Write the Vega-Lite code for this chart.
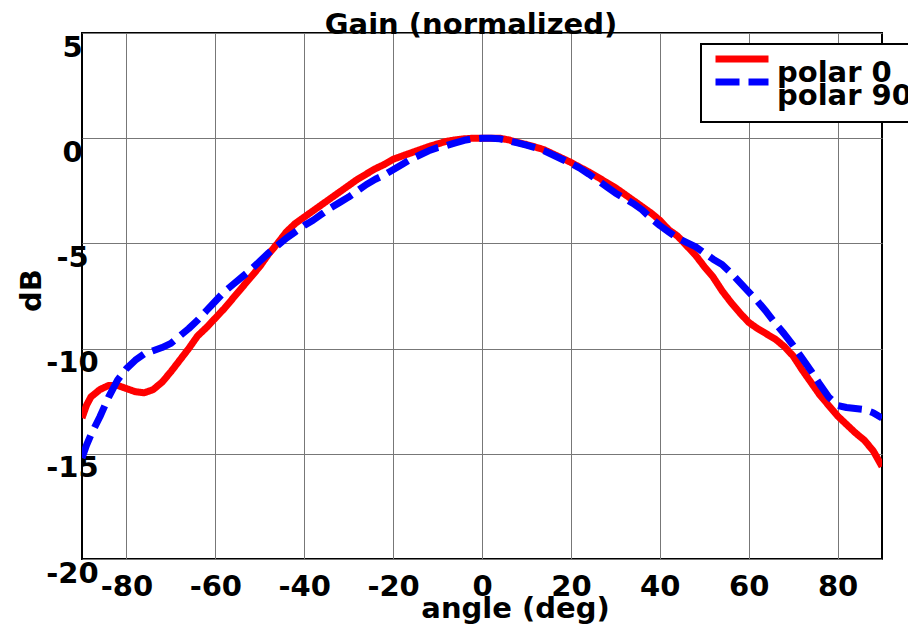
{
  "$schema": "https://vega.github.io/schema/vega-lite/v6.json",
  "autosize": {"type": "none"},
  "width": 800,
  "height": 526,
  "padding": {"left": 82, "top": 33, "right": 26, "bottom": 67},
  "background": "white",
  "title": {
    "text": "Gain (normalized)",
    "font": "DejaVu Sans",
    "fontSize": 29,
    "fontWeight": "bold",
    "color": "black",
    "anchor": "middle",
    "frame": "group",
    "baseline": "alphabetic",
    "offset": 0,
    "dx": -11,
    "dy": 30
  },
  "config": {
    "font": "DejaVu Sans",
    "view": {"stroke": "black", "strokeWidth": 2}
  },
  "data": {
    "values": [
      {"angle": -90, "dB": -13.3, "series": "polar 0"},
      {"angle": -89, "dB": -12.7, "series": "polar 0"},
      {"angle": -88, "dB": -12.3, "series": "polar 0"},
      {"angle": -86, "dB": -11.95, "series": "polar 0"},
      {"angle": -84, "dB": -11.75, "series": "polar 0"},
      {"angle": -82, "dB": -11.75, "series": "polar 0"},
      {"angle": -80, "dB": -11.9, "series": "polar 0"},
      {"angle": -78, "dB": -12.05, "series": "polar 0"},
      {"angle": -76, "dB": -12.1, "series": "polar 0"},
      {"angle": -74, "dB": -11.95, "series": "polar 0"},
      {"angle": -72, "dB": -11.6, "series": "polar 0"},
      {"angle": -70, "dB": -11.1, "series": "polar 0"},
      {"angle": -68, "dB": -10.55, "series": "polar 0"},
      {"angle": -66, "dB": -10.0, "series": "polar 0"},
      {"angle": -64, "dB": -9.4, "series": "polar 0"},
      {"angle": -62, "dB": -9.0, "series": "polar 0"},
      {"angle": -60, "dB": -8.55, "series": "polar 0"},
      {"angle": -58, "dB": -8.1, "series": "polar 0"},
      {"angle": -56, "dB": -7.6, "series": "polar 0"},
      {"angle": -54, "dB": -7.1, "series": "polar 0"},
      {"angle": -52, "dB": -6.6, "series": "polar 0"},
      {"angle": -50, "dB": -6.1, "series": "polar 0"},
      {"angle": -48, "dB": -5.5, "series": "polar 0"},
      {"angle": -46, "dB": -5.0, "series": "polar 0"},
      {"angle": -44, "dB": -4.45, "series": "polar 0"},
      {"angle": -42, "dB": -4.05, "series": "polar 0"},
      {"angle": -40, "dB": -3.75, "series": "polar 0"},
      {"angle": -38, "dB": -3.45, "series": "polar 0"},
      {"angle": -36, "dB": -3.15, "series": "polar 0"},
      {"angle": -34, "dB": -2.85, "series": "polar 0"},
      {"angle": -32, "dB": -2.55, "series": "polar 0"},
      {"angle": -30, "dB": -2.25, "series": "polar 0"},
      {"angle": -28, "dB": -1.95, "series": "polar 0"},
      {"angle": -26, "dB": -1.7, "series": "polar 0"},
      {"angle": -24, "dB": -1.45, "series": "polar 0"},
      {"angle": -22, "dB": -1.25, "series": "polar 0"},
      {"angle": -20, "dB": -1.0, "series": "polar 0"},
      {"angle": -18, "dB": -0.85, "series": "polar 0"},
      {"angle": -16, "dB": -0.7, "series": "polar 0"},
      {"angle": -14, "dB": -0.55, "series": "polar 0"},
      {"angle": -12, "dB": -0.4, "series": "polar 0"},
      {"angle": -10, "dB": -0.27, "series": "polar 0"},
      {"angle": -8, "dB": -0.15, "series": "polar 0"},
      {"angle": -6, "dB": -0.08, "series": "polar 0"},
      {"angle": -4, "dB": -0.03, "series": "polar 0"},
      {"angle": -2, "dB": 0, "series": "polar 0"},
      {"angle": 0, "dB": 0, "series": "polar 0"},
      {"angle": 2, "dB": 0, "series": "polar 0"},
      {"angle": 4, "dB": 0, "series": "polar 0"},
      {"angle": 6, "dB": -0.08, "series": "polar 0"},
      {"angle": 8, "dB": -0.2, "series": "polar 0"},
      {"angle": 10, "dB": -0.3, "series": "polar 0"},
      {"angle": 12, "dB": -0.42, "series": "polar 0"},
      {"angle": 14, "dB": -0.55, "series": "polar 0"},
      {"angle": 16, "dB": -0.75, "series": "polar 0"},
      {"angle": 18, "dB": -0.95, "series": "polar 0"},
      {"angle": 20, "dB": -1.15, "series": "polar 0"},
      {"angle": 22, "dB": -1.38, "series": "polar 0"},
      {"angle": 24, "dB": -1.6, "series": "polar 0"},
      {"angle": 26, "dB": -1.85, "series": "polar 0"},
      {"angle": 28, "dB": -2.1, "series": "polar 0"},
      {"angle": 30, "dB": -2.35, "series": "polar 0"},
      {"angle": 32, "dB": -2.65, "series": "polar 0"},
      {"angle": 34, "dB": -2.95, "series": "polar 0"},
      {"angle": 36, "dB": -3.25, "series": "polar 0"},
      {"angle": 38, "dB": -3.55, "series": "polar 0"},
      {"angle": 40, "dB": -3.9, "series": "polar 0"},
      {"angle": 42, "dB": -4.35, "series": "polar 0"},
      {"angle": 44, "dB": -4.65, "series": "polar 0"},
      {"angle": 46, "dB": -5.1, "series": "polar 0"},
      {"angle": 48, "dB": -5.55, "series": "polar 0"},
      {"angle": 50, "dB": -6.1, "series": "polar 0"},
      {"angle": 52, "dB": -6.6, "series": "polar 0"},
      {"angle": 54, "dB": -7.25, "series": "polar 0"},
      {"angle": 56, "dB": -7.8, "series": "polar 0"},
      {"angle": 58, "dB": -8.3, "series": "polar 0"},
      {"angle": 60, "dB": -8.75, "series": "polar 0"},
      {"angle": 62, "dB": -9.05, "series": "polar 0"},
      {"angle": 64, "dB": -9.3, "series": "polar 0"},
      {"angle": 66, "dB": -9.55, "series": "polar 0"},
      {"angle": 68, "dB": -9.9, "series": "polar 0"},
      {"angle": 70, "dB": -10.35, "series": "polar 0"},
      {"angle": 72, "dB": -11.0, "series": "polar 0"},
      {"angle": 74, "dB": -11.6, "series": "polar 0"},
      {"angle": 76, "dB": -12.2, "series": "polar 0"},
      {"angle": 78, "dB": -12.7, "series": "polar 0"},
      {"angle": 80, "dB": -13.2, "series": "polar 0"},
      {"angle": 82, "dB": -13.6, "series": "polar 0"},
      {"angle": 84, "dB": -14.0, "series": "polar 0"},
      {"angle": 86, "dB": -14.35, "series": "polar 0"},
      {"angle": 88, "dB": -14.85, "series": "polar 0"},
      {"angle": 90, "dB": -15.6, "series": "polar 0"},
      {"angle": -90, "dB": -15.2, "series": "polar 90"},
      {"angle": -89, "dB": -14.6, "series": "polar 90"},
      {"angle": -88, "dB": -14.1, "series": "polar 90"},
      {"angle": -86, "dB": -13.25, "series": "polar 90"},
      {"angle": -84, "dB": -12.3, "series": "polar 90"},
      {"angle": -82, "dB": -11.5, "series": "polar 90"},
      {"angle": -80, "dB": -10.95, "series": "polar 90"},
      {"angle": -78, "dB": -10.55, "series": "polar 90"},
      {"angle": -76, "dB": -10.25, "series": "polar 90"},
      {"angle": -74, "dB": -10.1, "series": "polar 90"},
      {"angle": -72, "dB": -9.95, "series": "polar 90"},
      {"angle": -70, "dB": -9.75, "series": "polar 90"},
      {"angle": -68, "dB": -9.4, "series": "polar 90"},
      {"angle": -66, "dB": -9.05, "series": "polar 90"},
      {"angle": -64, "dB": -8.65, "series": "polar 90"},
      {"angle": -62, "dB": -8.2, "series": "polar 90"},
      {"angle": -60, "dB": -7.75, "series": "polar 90"},
      {"angle": -58, "dB": -7.3, "series": "polar 90"},
      {"angle": -56, "dB": -6.95, "series": "polar 90"},
      {"angle": -54, "dB": -6.6, "series": "polar 90"},
      {"angle": -52, "dB": -6.25, "series": "polar 90"},
      {"angle": -50, "dB": -5.85, "series": "polar 90"},
      {"angle": -48, "dB": -5.45, "series": "polar 90"},
      {"angle": -46, "dB": -5.1, "series": "polar 90"},
      {"angle": -44, "dB": -4.75, "series": "polar 90"},
      {"angle": -42, "dB": -4.45, "series": "polar 90"},
      {"angle": -40, "dB": -4.15, "series": "polar 90"},
      {"angle": -38, "dB": -3.9, "series": "polar 90"},
      {"angle": -36, "dB": -3.6, "series": "polar 90"},
      {"angle": -34, "dB": -3.3, "series": "polar 90"},
      {"angle": -32, "dB": -3.05, "series": "polar 90"},
      {"angle": -30, "dB": -2.8, "series": "polar 90"},
      {"angle": -28, "dB": -2.5, "series": "polar 90"},
      {"angle": -26, "dB": -2.2, "series": "polar 90"},
      {"angle": -24, "dB": -1.95, "series": "polar 90"},
      {"angle": -22, "dB": -1.75, "series": "polar 90"},
      {"angle": -20, "dB": -1.5, "series": "polar 90"},
      {"angle": -18, "dB": -1.25, "series": "polar 90"},
      {"angle": -16, "dB": -1.0, "series": "polar 90"},
      {"angle": -14, "dB": -0.8, "series": "polar 90"},
      {"angle": -12, "dB": -0.6, "series": "polar 90"},
      {"angle": -10, "dB": -0.45, "series": "polar 90"},
      {"angle": -8, "dB": -0.35, "series": "polar 90"},
      {"angle": -6, "dB": -0.22, "series": "polar 90"},
      {"angle": -4, "dB": -0.1, "series": "polar 90"},
      {"angle": -2, "dB": -0.03, "series": "polar 90"},
      {"angle": 0, "dB": 0, "series": "polar 90"},
      {"angle": 2, "dB": 0, "series": "polar 90"},
      {"angle": 4, "dB": -0.03, "series": "polar 90"},
      {"angle": 6, "dB": -0.12, "series": "polar 90"},
      {"angle": 8, "dB": -0.22, "series": "polar 90"},
      {"angle": 10, "dB": -0.33, "series": "polar 90"},
      {"angle": 12, "dB": -0.45, "series": "polar 90"},
      {"angle": 14, "dB": -0.6, "series": "polar 90"},
      {"angle": 16, "dB": -0.8, "series": "polar 90"},
      {"angle": 18, "dB": -1.0, "series": "polar 90"},
      {"angle": 20, "dB": -1.2, "series": "polar 90"},
      {"angle": 22, "dB": -1.42, "series": "polar 90"},
      {"angle": 24, "dB": -1.7, "series": "polar 90"},
      {"angle": 26, "dB": -2.0, "series": "polar 90"},
      {"angle": 28, "dB": -2.3, "series": "polar 90"},
      {"angle": 30, "dB": -2.6, "series": "polar 90"},
      {"angle": 32, "dB": -2.85, "series": "polar 90"},
      {"angle": 34, "dB": -3.1, "series": "polar 90"},
      {"angle": 36, "dB": -3.4, "series": "polar 90"},
      {"angle": 38, "dB": -3.8, "series": "polar 90"},
      {"angle": 40, "dB": -4.15, "series": "polar 90"},
      {"angle": 42, "dB": -4.45, "series": "polar 90"},
      {"angle": 44, "dB": -4.75, "series": "polar 90"},
      {"angle": 46, "dB": -4.95, "series": "polar 90"},
      {"angle": 48, "dB": -5.15, "series": "polar 90"},
      {"angle": 50, "dB": -5.45, "series": "polar 90"},
      {"angle": 52, "dB": -5.75, "series": "polar 90"},
      {"angle": 54, "dB": -6.0, "series": "polar 90"},
      {"angle": 56, "dB": -6.4, "series": "polar 90"},
      {"angle": 58, "dB": -6.85, "series": "polar 90"},
      {"angle": 60, "dB": -7.3, "series": "polar 90"},
      {"angle": 62, "dB": -7.75, "series": "polar 90"},
      {"angle": 64, "dB": -8.25, "series": "polar 90"},
      {"angle": 66, "dB": -8.8, "series": "polar 90"},
      {"angle": 68, "dB": -9.3, "series": "polar 90"},
      {"angle": 70, "dB": -9.85, "series": "polar 90"},
      {"angle": 72, "dB": -10.45, "series": "polar 90"},
      {"angle": 74, "dB": -11.05, "series": "polar 90"},
      {"angle": 76, "dB": -11.7, "series": "polar 90"},
      {"angle": 78, "dB": -12.3, "series": "polar 90"},
      {"angle": 80, "dB": -12.7, "series": "polar 90"},
      {"angle": 82, "dB": -12.8, "series": "polar 90"},
      {"angle": 84, "dB": -12.85, "series": "polar 90"},
      {"angle": 86, "dB": -12.9, "series": "polar 90"},
      {"angle": 88, "dB": -13.05, "series": "polar 90"},
      {"angle": 90, "dB": -13.3, "series": "polar 90"}
    ]
  },
  "mark": {"type": "line", "strokeWidth": 7, "strokeCap": "butt", "strokeJoin": "round", "clip": true},
  "encoding": {
    "x": {
      "field": "angle",
      "type": "quantitative",
      "scale": {"domain": [-90, 90], "nice": false, "zero": false},
      "axis": {
        "title": "angle (deg)",
        "values": [-80, -60, -40, -20, 0, 20, 40, 60, 80],
        "labelExpr": "'' + datum.value",
        "grid": true,
        "gridColor": "#777777",
        "gridWidth": 1,
        "domain": false,
        "ticks": false,
        "labelPadding": 13,
        "labelBaseline": "top",
        "labelFont": "DejaVu Sans",
        "labelFontSize": 29,
        "labelFontWeight": "bold",
        "labelColor": "black",
        "labelFlush": false,
        "labelOverlap": false,
        "titleFont": "DejaVu Sans",
        "titleFontSize": 29,
        "titleFontWeight": "bold",
        "titleColor": "black",
        "titleBaseline": "alphabetic",
        "titleAlign": "center",
        "titleX": 433,
        "titleY": 58
      }
    },
    "y": {
      "field": "dB",
      "type": "quantitative",
      "scale": {"domain": [-20, 5], "nice": false, "zero": false},
      "axis": {
        "title": "dB",
        "values": [-20, -15, -10, -5, 0, 5],
        "labelExpr": "'' + datum.value",
        "grid": true,
        "gridColor": "#777777",
        "gridWidth": 1,
        "domain": false,
        "ticks": false,
        "labelPadding": 10,
        "labelAlign": "center",
        "labelBaseline": "top",
        "labelFont": "DejaVu Sans",
        "labelFontSize": 29,
        "labelFontWeight": "bold",
        "labelColor": "black",
        "labelFlush": false,
        "labelOverlap": false,
        "titleFont": "DejaVu Sans",
        "titleFontSize": 29,
        "titleFontWeight": "bold",
        "titleColor": "black",
        "titleAngle": 270,
        "titleBaseline": "alphabetic",
        "titleAlign": "center",
        "titleX": -42,
        "titleY": 257
      }
    },
    "color": {
      "field": "series",
      "type": "nominal",
      "scale": {"domain": ["polar 0", "polar 90"], "range": ["#ff0000", "#0000ff"]},
      "legend": {
        "title": null,
        "orient": "none",
        "legendX": 619,
        "legendY": 11,
        "direction": "vertical",
        "symbolType": "stroke",
        "symbolSize": 2809,
        "symbolStrokeWidth": 7,
        "labelFont": "DejaVu Sans",
        "labelFontSize": 29,
        "labelFontWeight": "bold",
        "labelColor": "black",
        "labelBaseline": "top",
        "labelOffset": 5,
        "labelLimit": 0,
        "rowPadding": -40,
        "padding": 11,
        "strokeColor": "black",
        "fillColor": "white",
        "encode": {
          "legend": {"update": {"strokeWidth": {"value": 2}}},
          "symbols": {"update": {"y": {"signal": "datum.index === 1 ? -6 : 4"}}},
          "labels": {"update": {"y": {"signal": "datum.index === 1 ? -6 : 4"}}}
        }
      }
    },
    "strokeDash": {
      "field": "series",
      "type": "nominal",
      "scale": {"domain": ["polar 0", "polar 90"], "range": [[1, 0], [24, 9]]},
      "legend": null
    }
  }
}
